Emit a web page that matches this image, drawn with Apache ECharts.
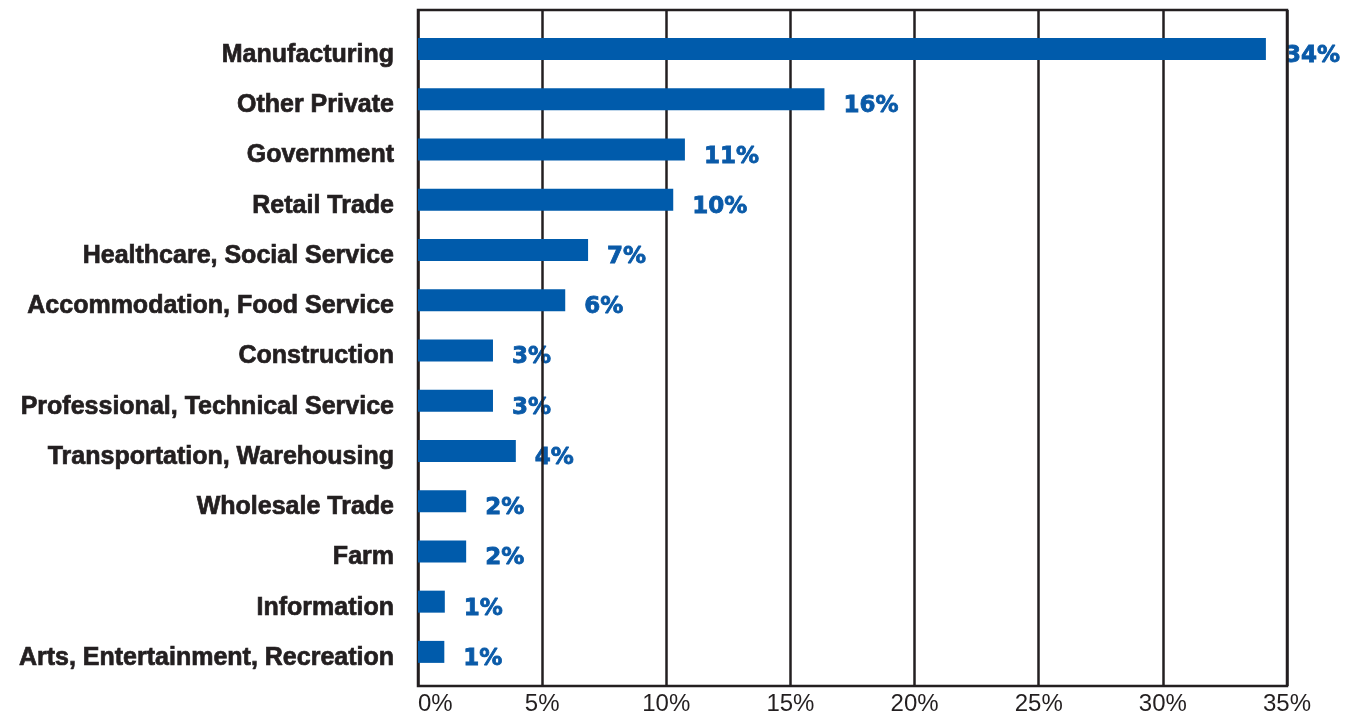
<!DOCTYPE html>
<html>
<head>
<meta charset="utf-8">
<script src="https://cdn.jsdelivr.net/npm/echarts@6/dist/echarts.min.js"></script>
<style>
  html, body { margin: 0; padding: 0; background: #ffffff; }
  #chart { width: 1356px; height: 715px; }
</style>
</head>
<body>
<div id="chart"></div>
<script>
const categories = [
  'Manufacturing',
  'Other Private',
  'Government',
  'Retail Trade',
  'Healthcare, Social Service',
  'Accommodation, Food Service',
  'Construction',
  'Professional, Technical Service',
  'Transportation, Warehousing',
  'Wholesale Trade',
  'Farm',
  'Information',
  'Arts, Entertainment, Recreation'
];
const shares = [34.15, 16.37, 10.75, 10.28, 6.85, 5.93, 3.02, 3.02, 3.94, 1.94, 1.94, 1.08, 1.06];
const axisMin = 0;
const axisMax = 35;
const axisStep = 5;

const FONT = '"Liberation Sans", Arial, Helvetica, sans-serif';
const LABEL_FONT = '"DejaVu Sans", Verdana, sans-serif';
const LINE = '#231f20';
const BLUE = '#005bab';
const LABEL_BLUE = '#0a5aa8';

const chart = echarts.init(document.getElementById('chart'), null, { renderer: 'canvas' });
chart.setOption({
  animation: false,
  backgroundColor: '#ffffff',
  grid: [
    { left: 418, right: 69, top: 10, bottom: 29, outerBoundsMode: 'none', containLabel: false,
      show: true, borderColor: LINE, borderWidth: 2.5, backgroundColor: 'transparent' },
    { left: 418, right: 69, top: 24, bottom: 38, outerBoundsMode: 'none', containLabel: false }
  ],
  xAxis: [
    {
      gridIndex: 0, type: 'value', min: axisMin, max: axisMax, interval: axisStep,
      axisLine: { show: false }, axisTick: { show: false },
      splitLine: { show: true, lineStyle: { color: LINE, width: 2.5 } },
      axisLabel: {
        formatter: v => v + '%', color: LINE, fontFamily: FONT, fontSize: 24, margin: 6,
        alignMinLabel: 'left'
      }
    },
    {
      gridIndex: 1, type: 'value', min: axisMin, max: axisMax, show: false,
      splitLine: { show: false }
    }
  ],
  yAxis: [
    { gridIndex: 0, type: 'value', show: false, splitLine: { show: false } },
    {
      gridIndex: 1, type: 'category', data: categories, inverse: true,
      axisLine: { show: false }, axisTick: { show: false },
      axisLabel: {
        margin: 24,
        formatter: v => '{c|' + v + '}',
        rich: {
          c: {
            color: LINE, fontFamily: FONT, fontSize: 25, fontWeight: 'bold',
            textBorderColor: LINE, textBorderWidth: 0.7,
            padding: [12, 0, 0, 0]
          }
        }
      }
    }
  ],
  series: [
    {
      type: 'bar', xAxisIndex: 1, yAxisIndex: 1, data: shares, barWidth: 22, z: 2,
      itemStyle: { color: BLUE },
      label: { show: false }
    },
    {
      type: 'bar', xAxisIndex: 1, yAxisIndex: 1, data: shares, barWidth: 22, barGap: '-100%', z: -1,
      itemStyle: { color: 'rgba(0,0,0,0)' },
      label: {
        show: true, position: 'right', distance: 19, offset: [0, 7],
        formatter: p => Math.round(p.value) + '%',
        color: LABEL_BLUE, fontFamily: LABEL_FONT, fontSize: 23, fontWeight: 'bold',
        textBorderColor: LABEL_BLUE, textBorderWidth: 0.8
      }
    }
  ]
});
</script>
</body>
</html>
